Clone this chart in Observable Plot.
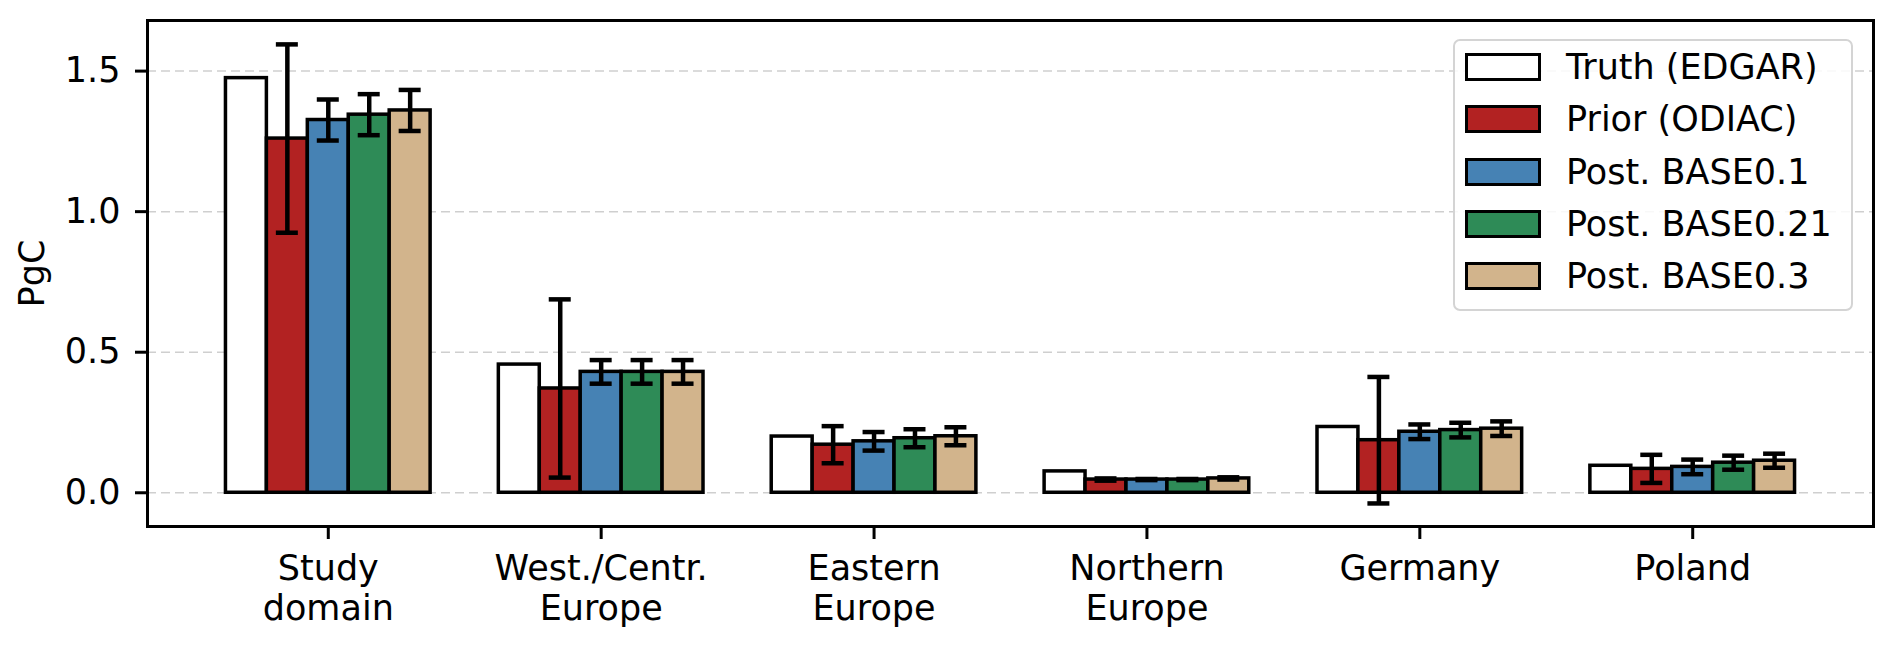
<!DOCTYPE html>
<html>
<head>
<meta charset="utf-8">
<script src="https://cdn.jsdelivr.net/npm/d3@7"></script>
<script src="https://cdn.jsdelivr.net/npm/@observablehq/plot@0.6"></script>
<style>
  html, body { margin: 0; padding: 0; background: #fff; }
  #wrap { position: relative; width: 1892px; height: 645px; font-family: "DejaVu Sans", sans-serif; }
  #legend {
    position: absolute; left: 1453px; top: 39px; width: 396px; height: 268px;
    border: 2px solid #d4d4d4; border-radius: 7px; background: rgba(255,255,255,0.85);
    box-sizing: content-box; font-size: 35px; color: #000;
  }
  .row { display: flex; align-items: center; height: 52.3px; padding-left: 10px; }
  .sw { width: 70px; height: 22px; border: 3.5px solid #000; box-sizing: content-box; margin-right: 25px; }
</style>
</head>
<body>
<div id="wrap"></div>
<script>
// ---- data ----
const categories = ["Study domain", "West./Centr. Europe", "Eastern Europe", "Northern Europe", "Germany", "Poland"];
const tickLabels = ["Study\ndomain", "West./Centr.\nEurope", "Eastern\nEurope", "Northern\nEurope", "Germany", "Poland"];
const seriesNames = ["Truth (EDGAR)", "Prior (ODIAC)", "Post. BASE0.1", "Post. BASE0.21", "Post. BASE0.3"];
const seriesColors = ["#ffffff", "#b22222", "#4682b4", "#2e8b57", "#d2b48c"];

const truth     = [1.475, 0.456, 0.200, 0.076, 0.234, 0.096];
const prior     = [1.260, 0.371, 0.171, 0.047, 0.187, 0.085];
const priorErr  = [0.335, 0.317, 0.066, 0.004, 0.225, 0.050];
const base01    = [1.326, 0.430, 0.183, 0.047, 0.217, 0.092];
const base01Err = [0.073, 0.042, 0.033, 0.002, 0.026, 0.026];
const base021   = [1.345, 0.430, 0.194, 0.047, 0.223, 0.107];
const base021Err= [0.073, 0.042, 0.032, 0.002, 0.026, 0.025];
const base03    = [1.360, 0.430, 0.201, 0.051, 0.228, 0.114];
const base03Err = [0.073, 0.042, 0.032, 0.004, 0.026, 0.025];
const yTicks = [0, 0.5, 1.0, 1.5];

// ---- build table ----
const values = [truth, prior, base01, base021, base03];
const errs = [null, priorErr, base01Err, base021Err, base03Err];
const bw = 0.15;
const rows = [];
categories.forEach((c, i) => {
  values.forEach((arr, j) => {
    rows.push({i, j, cat: c, series: seriesNames[j], value: arr[i], err: errs[j] ? errs[j][i] : null,
               xc: i + (j - 2) * bw});
  });
});
const errRows = rows.filter(d => d.err != null);

const chart = Plot.plot({
  width: 1892,
  height: 645,
  marginLeft: 147,
  marginRight: 19,
  marginTop: 20,
  marginBottom: 119,
  style: {fontFamily: "DejaVu Sans, sans-serif", fontSize: "35px", color: "#000", background: "#fff"},
  x: {domain: [-0.6625, 5.6625], label: null},
  y: {domain: [-0.12, 1.68], label: null},
  marks: [
    Plot.ruleY(yTicks, {stroke: "#cfcfcf", strokeWidth: 1.5, strokeDasharray: "9,5"}),
    Plot.rectY(rows, {x1: d => d.xc - bw / 2, x2: d => d.xc + bw / 2, y1: 0, y2: "value",
      fill: d => seriesColors[d.j], stroke: "#000", strokeWidth: 3.5}),
    Plot.ruleX(errRows, {x: "xc", y1: d => d.value - d.err, y2: d => d.value + d.err, stroke: "#000", strokeWidth: 4.5}),
    Plot.ruleY(errRows, {y: d => d.value + d.err, x1: "xc", x2: "xc", stroke: "#000", strokeWidth: 4.5,
      insetLeft: -11, insetRight: -11}),
    Plot.ruleY(errRows, {y: d => d.value - d.err, x1: "xc", x2: "xc", stroke: "#000", strokeWidth: 4.5,
      insetLeft: -11, insetRight: -11}),
    Plot.axisY({ticks: yTicks, tickFormat: d3.format(".1f"), tickSize: 12, tickPadding: 15, strokeWidth: 3,
      label: "PgC", labelAnchor: "center", labelArrow: false, labelOffset: 128}),
    Plot.axisX({ticks: [0, 1, 2, 3, 4, 5], tickFormat: i => tickLabels[i], tickSize: 13, tickPadding: 12,
      strokeWidth: 3, lineHeight: 1.15, label: null}),
    Plot.frame({stroke: "#000", strokeWidth: 3})
  ]
});

const wrap = document.getElementById("wrap");
wrap.appendChild(chart);

const legend = document.createElement("div");
legend.id = "legend";
seriesNames.forEach((name, j) => {
  const row = document.createElement("div");
  row.className = "row";
  const sw = document.createElement("div");
  sw.className = "sw";
  sw.style.background = seriesColors[j];
  const t = document.createElement("span");
  t.textContent = name;
  row.appendChild(sw);
  row.appendChild(t);
  legend.appendChild(row);
});
wrap.appendChild(legend);
</script>
</body>
</html>
